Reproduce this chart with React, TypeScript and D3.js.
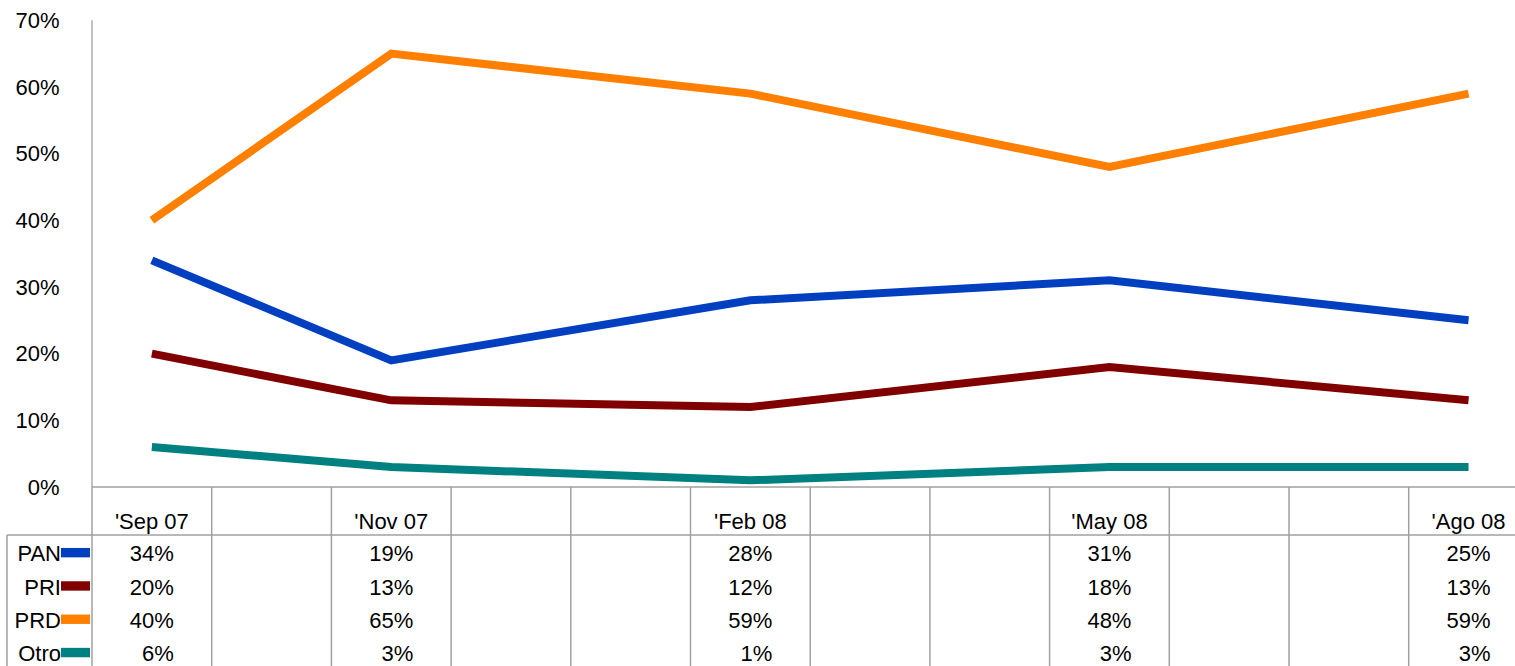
import React from "react";
import * as d3 from "d3";

const months = ["Sep 07", "Oct 07", "Nov 07", "Dec 07", "Jan 08", "Feb 08", "Mar 08", "Apr 08", "May 08", "Jun 08", "Jul 08", "Ago 08"];
const categories = ["Sep 07", "Nov 07", "Feb 08", "May 08", "Ago 08"];
const categoryLabels = ["'Sep 07", "'Nov 07", "'Feb 08", "'May 08", "'Ago 08"];
const seriesNames = ["PAN", "PRI", "PRD", "Otro"];
const panValues = [0.34, 0.19, 0.28, 0.31, 0.25];
const priValues = [0.20, 0.13, 0.12, 0.18, 0.13];
const prdValues = [0.40, 0.65, 0.59, 0.48, 0.59];
const otroValues = [0.06, 0.03, 0.01, 0.03, 0.03];
const colors = ["#0040c0", "#800000", "#ff8000", "#008080"];
const yTicks = [0, 0.1, 0.2, 0.3, 0.4, 0.5, 0.6, 0.7];

const W = 1515;
const H = 666;
const FONT = "'Liberation Sans', Arial, sans-serif";
const GRID = "#a0a0a0";

export default function App() {
  const series = [panValues, priValues, prdValues, otroValues];
  const x = d3.scaleBand<string>().domain(months).range([92, 92 + 12 * 119.7]).padding(0);
  const y = d3.scaleLinear().domain([0, 0.7]).range([487, 20.3]);
  const cx = (m: string) => (x(m) as number) + x.bandwidth() / 2;
  const line = d3
    .line<number>()
    .x((_, i) => cx(categories[i]))
    .y((v) => y(v));
  const fmt = d3.format(".0%");
  const axisY = y(0);
  const tableTop = 535;
  const rowH = 33.3;
  const boundaries = d3.range(months.length + 1).map((i) => (x(months[0]) as number) + i * x.bandwidth());

  return (
    <svg width={W} height={H} style={{ position: "absolute", left: 0, top: 0, display: "block" }} fontFamily={FONT}>
      <rect width={W} height={H} fill="#fff" />
      {/* y axis */}
      <line x1={92} x2={92} y1={y(0.7)} y2={axisY} stroke={GRID} strokeWidth={1.3} />
      {yTicks.map((t) => (
        <text key={t} x={59.5} y={y(t)} dy="0.35em" textAnchor="end" fontSize={22} fill="#000">
          {fmt(t)}
        </text>
      ))}
      {/* table grid */}
      <line x1={92} x2={W} y1={axisY} y2={axisY} stroke={GRID} strokeWidth={1.5} />
      <line x1={7} x2={W} y1={tableTop} y2={tableTop} stroke={GRID} strokeWidth={1.5} />
      <line x1={7} x2={7} y1={tableTop} y2={H} stroke={GRID} strokeWidth={1.5} />
      {boundaries.map((b, i) => (
        <line key={i} x1={b} x2={b} y1={axisY} y2={H} stroke={GRID} strokeWidth={1.5} />
      ))}
      {/* category labels */}
      {categories.map((c, i) => (
        <text key={c} x={cx(c)} y={528.5} textAnchor="middle" fontSize={22} fill="#000">
          {categoryLabels[i]}
        </text>
      ))}
      {/* rows */}
      {seriesNames.map((name, si) => {
        const base = tableTop + rowH * (si + 1) - 7;
        const mid = tableTop + rowH * si + rowH / 2 + 1;
        return (
          <g key={name}>
            <text x={61} y={base} textAnchor="end" fontSize={22} fill="#000">
              {name}
            </text>
            <rect x={61} y={mid - 4.7} width={29} height={9.4} fill={colors[si]} />
            {categories.map((c, i) => (
              <text key={c} x={cx(c) + 22} y={base} textAnchor="end" fontSize={22} fill="#000">
                {fmt(series[si][i])}
              </text>
            ))}
          </g>
        );
      })}
      {/* lines */}
      {series.map((vals, si) => (
        <path key={si} d={line(vals) || ""} fill="none" stroke={colors[si]} strokeWidth={8} strokeLinejoin="miter" />
      ))}
    </svg>
  );
}
